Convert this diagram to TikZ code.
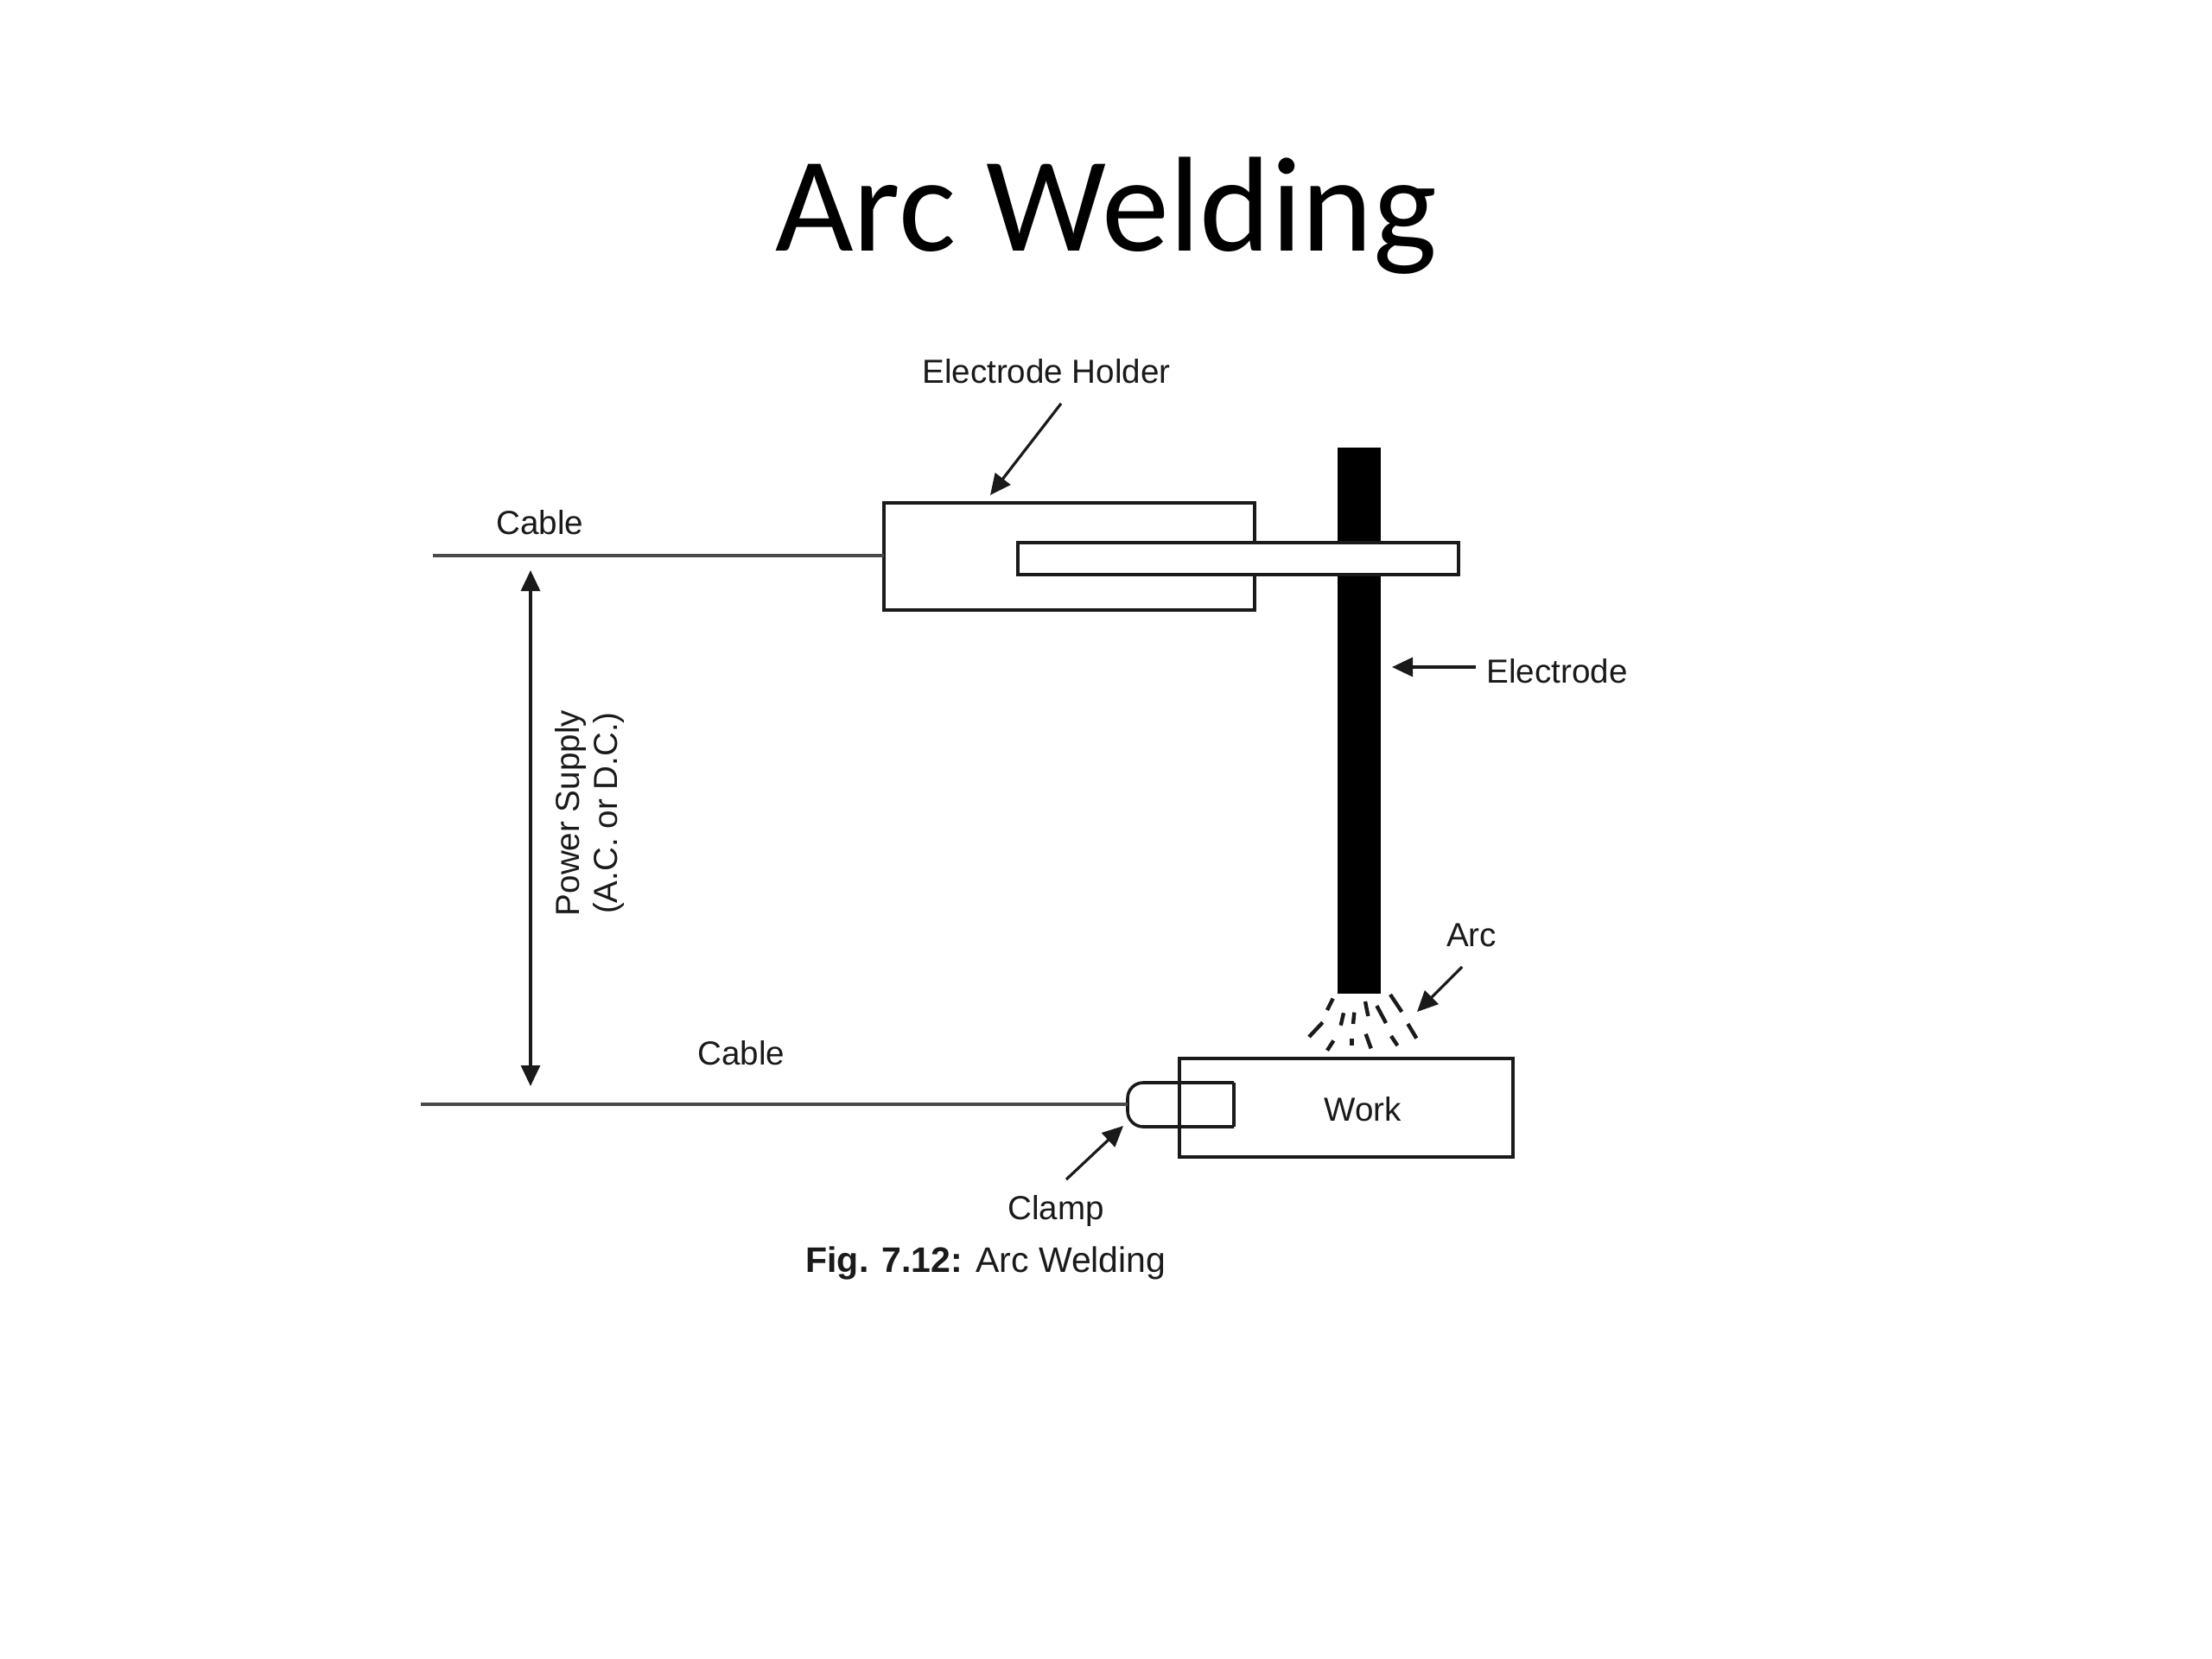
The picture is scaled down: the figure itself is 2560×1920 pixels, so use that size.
\documentclass[tikz,border=0pt]{standalone}
\usepackage{fontspec}
\setmainfont{Liberation Sans}
\newfontfamily\titlefont{Carlito}
\usetikzlibrary{arrows.meta}
\definecolor{ink}{HTML}{1A1A1A}
\definecolor{cablegray}{HTML}{4A4A4A}
\tikzset{
  lbl/.style={anchor=base,inner sep=0pt,outer sep=0pt,text=ink,font=\fontsize{19.3}{21}\selectfont},
  boxnode/.style={draw=ink,line width=2pt,inner sep=0pt,outer sep=0pt,anchor=north west},
  pointer/.style={draw=ink,line width=1.6pt,-{Triangle[length=12pt,width=11pt]},shorten >=0pt},
  cableline/.style={draw=cablegray,line width=1.7pt},
  spark/.style={draw=ink,line width=2.2pt},
}
\begin{document}
\begin{tikzpicture}[x=0.5pt,y=-0.5pt]
\useasboundingbox (0,0) rectangle (2560,1920);
\fill[white] (0,0) rectangle (2560,1920);
% title
\node[anchor=base,inner sep=0pt,text=black,font=\titlefont\fontsize{78.2}{90}\selectfont] (title) at (1280,291) {Arc Welding};
% electrode
\node[fill=black,draw=none,inner sep=0pt,outer sep=0pt,anchor=north west,minimum width=25pt,minimum height=316pt] (electrode) at (1548,518) {};
% holder
\node[boxnode,minimum width=214.5pt,minimum height=62pt] (holder) at (1023,582) {};
\node[boxnode,fill=white,minimum width=255pt,minimum height=18.5pt,line width=1.7pt] (inner) at (1178,628) {};
% work and clamp
\node[boxnode,minimum width=193pt,minimum height=57pt] (work) at (1365,1225) {};
\coordinate (clampL) at (1305,1278);
\draw[draw=ink,line width=1.8pt,rounded corners=9pt] (1428,1304) -- (1305,1304) -- (1305,1253) -- (1428,1253);
\draw[draw=ink,line width=1.8pt] (1428,1253) -- (1428,1304);
% cables
\coordinate (cableA) at (501,643);
\coordinate (cableB) at (487,1278);
\coordinate (holderL) at (1023,643);
\draw[cableline] (cableA) -- (holderL);
\draw[cableline] (cableB) -- (clampL);
% labels
\node[lbl] (lcableA) at (625,618) {Cable};
\node[lbl] (lcableB) at (858,1232) {Cable};
\node[lbl] (lholder) at (1211,444) {Electrode Holder};
\node[lbl] (lelectrode) at (1802,790) {Electrode};
\node[lbl] (larc) at (1703,1095) {Arc};
\node[lbl] (lwork) at (1577,1297) {Work};
\node[lbl] (lclamp) at (1222,1411) {Clamp};
\node[anchor=base,inner sep=0pt,text=ink,font=\fontsize{20.5}{24}\selectfont] (caption) at (1141,1472) {\textbf{Fig. 7.12:} Arc Welding};
\node[lbl,rotate=90] (lpower) at (670,941) {Power Supply};
\node[lbl,rotate=90] (lac) at (714,941) {(A.C. or D.C.)};
% pointers
\coordinate (pa1) at (1228,467); \coordinate (pa2) at (1146,573);
\coordinate (pb1) at (1708,772); \coordinate (pb2) at (1611,772);
\coordinate (pc1) at (1692,1119); \coordinate (pc2) at (1640,1171);
\coordinate (pd1) at (1234,1365); \coordinate (pd2) at (1300,1303);
\coordinate (pe1) at (614,660); \coordinate (pe2) at (614,1257);
\draw[pointer] (pa1) -- (pa2);
\draw[pointer] (pb1) -- (pb2);
\draw[pointer] (pc1) -- (pc2);
\draw[pointer] (pd1) -- (pd2);
\draw[pointer,{Triangle[length=12pt,width=11pt]}-{Triangle[length=12pt,width=11pt]}] (pe1) -- (pe2);
% arc sparks
\begin{scope}[shift={(1400,1050)},x=0.16667pt,y=-0.16667pt]
\foreach \xa/\ya/\xb/\yb in {428/317/408/357,392/400/345/450,465/367/455/410,502/365/498/405,540/327/550/378,580/342/612/402,627/303/667/363,688/405/718/455,430/463/408/497,493/457/493/480,542/440/560/490,630/447/652/480}
  \draw[spark] (\xa,\ya) -- (\xb,\yb);
\end{scope}
\end{tikzpicture}
\end{document}
